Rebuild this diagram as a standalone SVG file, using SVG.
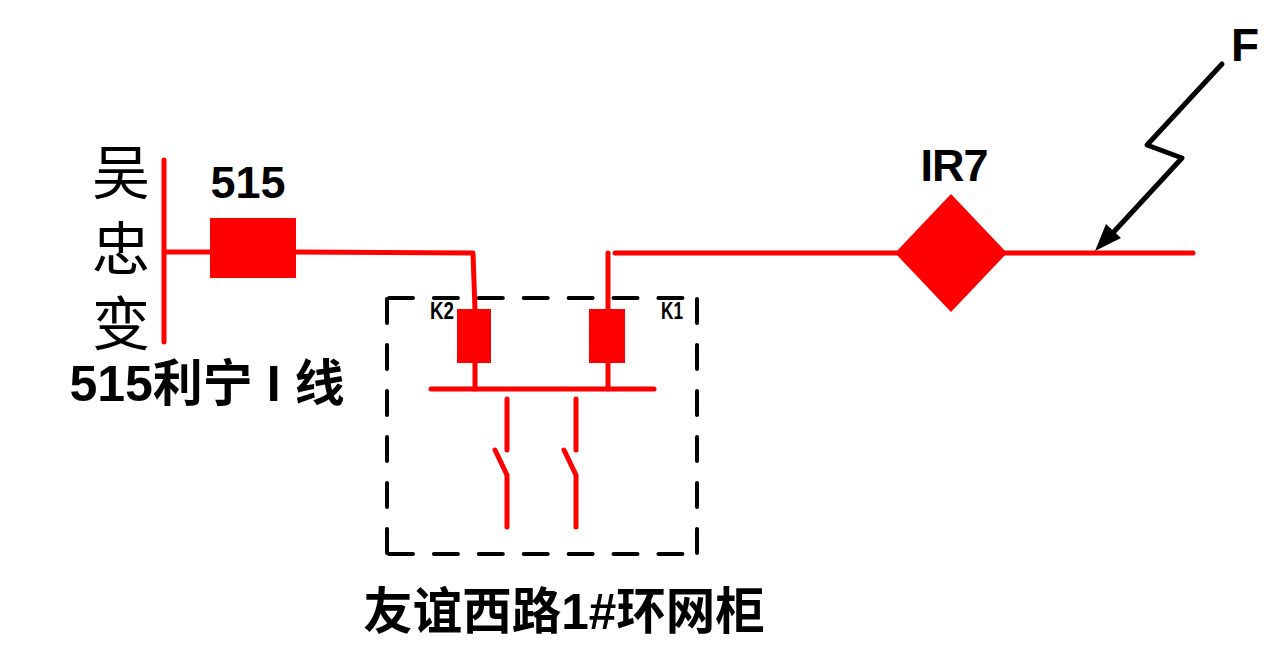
<svg xmlns="http://www.w3.org/2000/svg" width="1282" height="650" viewBox="0 0 1282 650">
<style>
.r{fill:none;stroke:#f00;stroke-width:5;stroke-linecap:round;stroke-linejoin:round}
.k{fill:none;stroke:#000;stroke-width:5;stroke-linecap:round;stroke-linejoin:round}
.dh{fill:none;stroke:#000;stroke-width:4;stroke-linecap:round;stroke-dasharray:24 20.9}
.dv{fill:none;stroke:#000;stroke-width:4;stroke-linecap:round;stroke-dasharray:24 22}
.f{fill:#f00}
text{font-family:"Liberation Sans","Noto Sans CJK SC",sans-serif;fill:#000;font-weight:700}
.cn{font-family:"Noto Sans CJK SC",sans-serif;font-weight:400;font-size:58px}
</style>
<rect width="1282" height="650" fill="#fff"/>
<g id="connectors">
<path class="r" d="M164 160V342"/>
<path class="r" d="M166 252H211"/>
<path class="r" d="M295 252L473 253L475 310"/>
<path class="r" d="M475 362V389"/>
<path class="r" d="M608 253V310"/>
<path class="r" d="M608 362V389"/>
<path class="r" d="M615 253H897"/>
<path class="r" d="M1004 253H1193"/>
<path class="k" d="M1222 64L1147 145L1182 158L1110 236"/>
<polygon points="1095,251 1106,224 1121,238" fill="#000"/>
</g>
<g id="bus-wuzhong">
<text class="cn" x="121" y="194" text-anchor="middle">吴</text>
<text class="cn" x="121" y="270" text-anchor="middle">忠</text>
<text class="cn" x="121" y="345" text-anchor="middle">变</text>
</g>
<g id="breaker-515">
<rect class="f" x="210" y="218" width="86" height="60"/>
<text x="248" y="198" font-size="45" text-anchor="middle" textLength="75" lengthAdjust="spacingAndGlyphs">515</text>
</g>
<text id="line-label" x="207" y="401" font-size="50" text-anchor="middle">515利宁 I 线</text>
<g id="ring-main-unit">
<path class="dh" d="M389 298H685"/>
<path class="dh" d="M389 554H685"/>
<path class="dv" d="M387 299V553"/>
<path class="dv" d="M697 299V553"/>
<rect class="f" x="457" y="309" width="34" height="54"/>
<rect class="f" x="589" y="309" width="36" height="54"/>
<path class="r" d="M431 389H654"/>
<path class="r" d="M507 399V450M495 450L507 475V527"/>
<path class="r" d="M576 399V450M564 450L576 475V527"/>
<text x="442" y="319" font-size="23" text-anchor="middle" textLength="24" lengthAdjust="spacingAndGlyphs">K2</text>
<text x="672" y="319" font-size="23" text-anchor="middle" textLength="22" lengthAdjust="spacingAndGlyphs">K1</text>
<text x="564" y="629" font-size="49.5" text-anchor="middle">友谊西路1#环网柜</text>
</g>
<g id="indicator-ir7">
<polygon class="f" points="951,194 1007,253 951,312 895,253"/>
<text x="954.5" y="181" font-size="45" text-anchor="middle" textLength="68" lengthAdjust="spacing">IR7</text>
</g>
<g id="fault-f">
<text x="1245" y="61" font-size="46" text-anchor="middle">F</text>
</g>
</svg>
